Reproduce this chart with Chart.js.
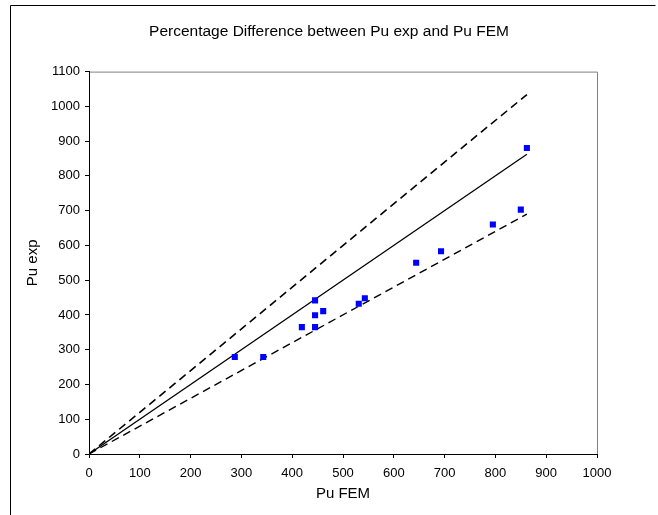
<!DOCTYPE html>
<html>
<head>
<meta charset="utf-8">
<script src="https://cdn.jsdelivr.net/npm/chart.js@4.4.0/dist/chart.umd.min.js"></script>
<style>
  html, body { margin: 0; padding: 0; background: #fff; }
  #wrap { width: 658px; height: 515px; position: relative; }
</style>
</head>
<body>
<div id="wrap"><canvas id="c" width="658" height="515"></canvas></div>
<script>
// Measured points: Pu FEM (x) vs Pu exp (y)
const puFEM = [287, 343, 419, 445, 445, 445, 461, 531, 543, 644, 693, 795, 850, 862];
const puExp = [279, 279, 365, 442, 399, 365, 411, 432, 448, 550, 583, 660, 703, 880];

// Reference lines (end points)
const refLineX   = [0, 862];
const equalLineY = [0, 862];
const upperLineY = [0, 1034];
const lowerLineY = [0, 690];

const xTicks = [0, 100, 200, 300, 400, 500, 600, 700, 800, 900, 1000];
const yTicks = [0, 100, 200, 300, 400, 500, 600, 700, 800, 900, 1000, 1100];

const titleText = 'Percentage Difference between Pu exp and Pu FEM';
const xTitle = 'Pu FEM';
const yTitle = 'Pu exp';

const FONT = "'Liberation Sans', Arial, sans-serif";

function pairs(xs, ys) { return xs.map((x, i) => ({ x: x, y: ys[i] })); }

const framePlugin = {
  id: 'frame',
  beforeDraw(chart) {
    const ctx = chart.ctx;
    ctx.save();
    ctx.fillStyle = '#fff';
    ctx.fillRect(0, 0, chart.width, chart.height);
    ctx.strokeStyle = '#000';
    ctx.lineWidth = 1;
    ctx.beginPath();
    ctx.moveTo(10.5, 515);
    ctx.lineTo(10.5, 5.5);
    ctx.lineTo(655.5, 5.5);
    ctx.stroke();
    const a = chart.chartArea;
    ctx.strokeStyle = '#808080';
    ctx.beginPath();
    ctx.moveTo(a.left, a.top + 0.5);
    ctx.lineTo(a.right + 0.5, a.top + 0.5);
    ctx.lineTo(a.right + 0.5, a.bottom);
    ctx.stroke();
    ctx.restore();
  }
};

new Chart(document.getElementById('c'), {
  type: 'scatter',
  data: {
    datasets: [
      {
        label: 'Pu exp',
        data: pairs(puFEM, puExp),
        pointStyle: 'rect',
        pointRadius: 4.3,
        pointBorderWidth: 0,
        backgroundColor: '#0000ff',
        borderColor: '#0000ff',
        showLine: false,
        order: 0
      },
      {
        label: 'equal',
        data: pairs(refLineX, equalLineY),
        showLine: true,
        borderColor: '#000',
        borderWidth: 1.3,
        pointRadius: 0,
        order: 1
      },
      {
        label: '+20%',
        data: pairs(refLineX, upperLineY),
        showLine: true,
        borderColor: '#000',
        borderWidth: 1.6,
        borderDash: [8, 5],
        pointRadius: 0,
        order: 1
      },
      {
        label: '-20%',
        data: pairs(refLineX, lowerLineY),
        showLine: true,
        borderColor: '#000',
        borderWidth: 1.4,
        borderDash: [8, 5],
        pointRadius: 0,
        order: 1
      }
    ]
  },
  options: {
    responsive: false,
    animation: false,
    devicePixelRatio: 1,
    layout: { padding: { left: 0, right: 0, top: 0, bottom: 0 } },
    plugins: {
      legend: { display: false },
      tooltip: { enabled: false },
      title: {
        display: true,
        text: titleText,
        color: '#000',
        font: { family: FONT, size: 15.5, weight: 'normal' },
        padding: { top: 22, bottom: 31 }
      }
    },
    scales: {
      x: {
        type: 'linear',
        min: 0, max: 1000,
        afterBuildTicks(scale) { scale.ticks = xTicks.map(v => ({ value: v })); },
        afterFit(scale) { scale.height = 61; },
        ticks: { color: '#000', font: { family: FONT, size: 13 }, padding: 8, maxRotation: 0, autoSkip: false,
                 callback: (v) => String(v) },
        grid: { drawOnChartArea: false, drawTicks: true, tickLength: 4, color: '#000' },
        border: { display: true, color: '#000', width: 1 },
        title: { display: true, text: xTitle, color: '#000', font: { family: FONT, size: 15 }, padding: { top: 4, bottom: 12 } }
      },
      y: {
        type: 'linear',
        min: 0, max: 1100,
        afterBuildTicks(scale) { scale.ticks = yTicks.map(v => ({ value: v })); },
        afterFit(scale) { scale.width = 89; },
        ticks: { color: '#000', font: { family: FONT, size: 13 }, padding: 5, autoSkip: false,
                 callback: (v) => String(v) },
        grid: { drawOnChartArea: false, drawTicks: true, tickLength: 4, color: '#000' },
        border: { display: true, color: '#000', width: 1 },
        title: { display: true, text: yTitle, color: '#000', font: { family: FONT, size: 15 }, padding: { top: 24, bottom: 4 } }
      },
      yRightSpace: {
        type: 'linear',
        axis: 'y',
        position: 'right',
        min: 0, max: 1100,
        afterFit(scale) { scale.width = 61; },
        ticks: { display: false },
        grid: { display: false, drawTicks: false },
        border: { display: false },
        title: { display: false }
      }
    }
  },
  plugins: [framePlugin]
});
</script>
</body>
</html>
